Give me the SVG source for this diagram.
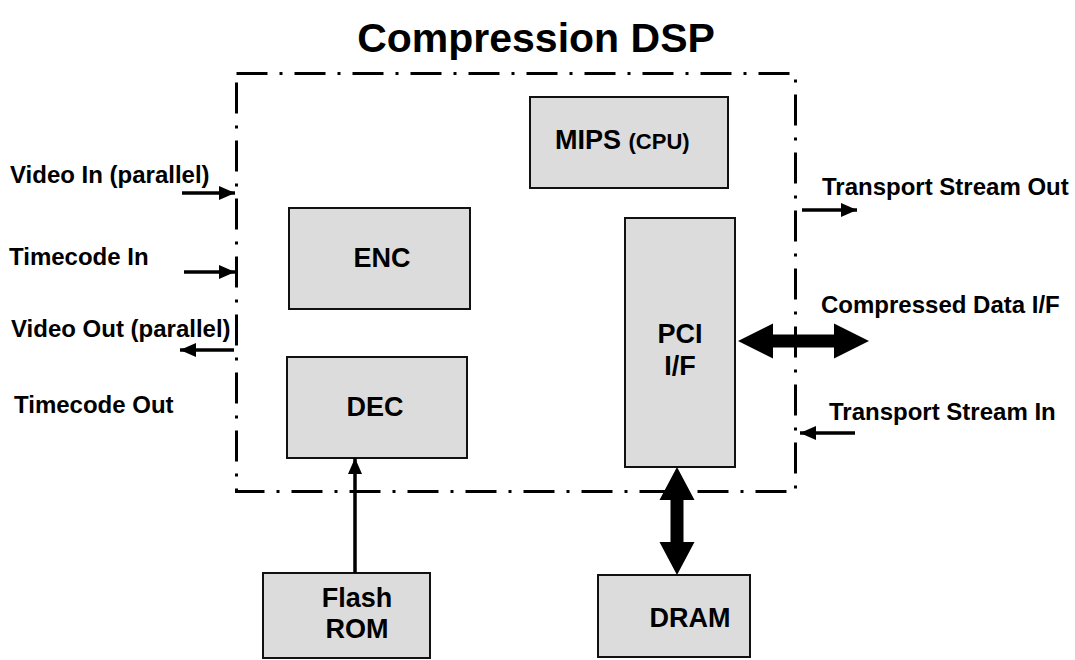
<svg xmlns="http://www.w3.org/2000/svg" width="1075" height="660" viewBox="0 0 1075 660">
<style>
text{font-family:"Liberation Sans",Arial,sans-serif;font-weight:bold;fill:#000}
.box{fill:#dcdcdc;stroke:#111;stroke-width:2}
.lbl{font-size:24px}
.bl{font-size:27px;text-anchor:middle}
.thin{stroke:#000;stroke-width:3.5;fill:none}
</style>
<defs>
<marker id="ah" markerWidth="16" markerHeight="14" refX="16" refY="7" orient="auto" markerUnits="userSpaceOnUse">
<path d="M0,0 L16,7 L0,14 Z" fill="#000"/>
</marker>
</defs>
<rect width="1075" height="660" fill="#fff"/>
<text x="536" y="52" font-size="41" text-anchor="middle">Compression DSP</text>
<g id="boundary">
<rect x="236.5" y="73.5" width="559" height="418" fill="none" stroke="#000" stroke-width="3" stroke-dasharray="31 12 3 12"/>
</g>
<g id="mips"><rect class="box" x="530" y="97" width="198" height="91"/><text x="555" y="149" font-size="27">MIPS <tspan font-size="22">(CPU)</tspan></text></g>
<g id="enc"><rect class="box" x="289" y="208" width="181" height="101"/><text class="bl" x="382" y="267">ENC</text></g>
<g id="dec"><rect class="box" x="287" y="357" width="180" height="101"/><text class="bl" x="375" y="416">DEC</text></g>
<g id="pci"><rect class="box" x="625" y="218" width="110" height="249"/><text class="bl" x="680" y="343">PCI</text><text class="bl" x="680" y="375">I/F</text></g>
<g id="flash"><rect class="box" x="263" y="573" width="167" height="85"/><text class="bl" x="357" y="607">Flash</text><text class="bl" x="357" y="638">ROM</text></g>
<g id="dram"><rect class="box" x="598" y="575" width="152" height="82"/><text class="bl" x="690" y="627">DRAM</text></g>
<g id="labels">
<text class="lbl" x="10" y="183">Video In (parallel)</text>
<text class="lbl" x="9" y="265">Timecode In</text>
<text class="lbl" x="11" y="337">Video Out (parallel)</text>
<text class="lbl" x="14" y="413">Timecode Out</text>
<text class="lbl" x="822" y="195">Transport Stream Out</text>
<text class="lbl" x="821" y="313">Compressed Data I/F</text>
<text class="lbl" x="829" y="420">Transport Stream In</text>
</g>
<g id="connectors">
<line class="thin" x1="182" y1="193" x2="235" y2="193" marker-end="url(#ah)"/>
<line class="thin" x1="184" y1="272" x2="235" y2="272" marker-end="url(#ah)"/>
<line class="thin" x1="234" y1="350" x2="180" y2="350" marker-end="url(#ah)"/>
<line class="thin" x1="802" y1="210" x2="857" y2="210" marker-end="url(#ah)"/>
<line class="thin" x1="855" y1="433" x2="800" y2="433" marker-end="url(#ah)"/>
<line class="thin" x1="355" y1="573" x2="355" y2="458" marker-end="url(#ah)"/>
<polygon fill="#000" points="738,341 773,323.5 773,334.5 834,334.5 834,323.5 869,341 834,358.5 834,347.5 773,347.5 773,358.5"/>
<polygon fill="#000" points="677,467 694.5,500 683.5,500 683.5,542 694.5,542 677,575 659.5,542 670.5,542 670.5,500 659.5,500"/>
</g>
</svg>
